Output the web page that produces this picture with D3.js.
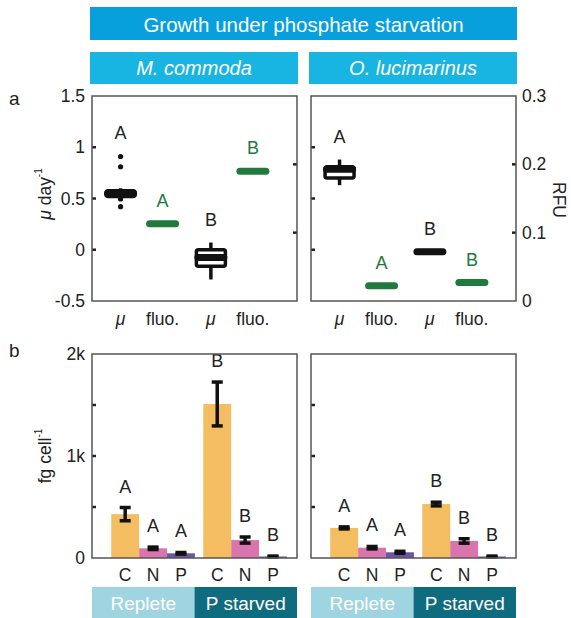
<!DOCTYPE html>
<html>
<head>
<meta charset="utf-8">
<script src="https://cdn.jsdelivr.net/npm/d3@7"></script>
<style>
body { margin: 0; background: #fff; }
text { font-family: "Liberation Sans", Arial, sans-serif; }
</style>
</head>
<body>
<script>
var svg_width = 571;
var svg_height = 618;

// ---- data ----
var species = ["M. commoda", "O. lucimarinus"];
var topCats = ["μ", "fluo.", "μ", "fluo."];
var conditions = ["Replete", "P starved"];
var elements = ["C", "N", "P"];

// growth rate boxplots (day-1): replete, P starved
var mcGrowth = [
  {lo: 0.50, q1: 0.52, med: 0.55, q3: 0.575, hi: 0.60, out: [0.91, 0.81, 0.495, 0.42]},
  {lo: -0.29, q1: -0.16, med: -0.076, q3: 0.0, hi: 0.07, out: []}
];
var olGrowth = [
  {lo: 0.63, q1: 0.70, med: 0.785, q3: 0.81, hi: 0.88, out: []},
  {lo: -0.02, q1: -0.02, med: -0.02, q3: -0.02, hi: -0.02, out: []}
];
// fluorescence (RFU): replete, P starved
var mcFluo = [0.113, 0.19];
var olFluo = [0.0224, 0.027];
var mcTopLetters = ["A", "A", "B", "B"];
var olTopLetters = ["A", "A", "B", "B"];

// cell quotas, fg cell-1: [replete C,N,P], [P starved C,N,P]
var mcQuota    = [[430, 95, 46], [1510, 176, 15]];
var mcQuotaErr = [[65, 12, 8], [215, 30, 4]];
var olQuota    = [[295, 101, 56], [529, 167, 15]];
var olQuotaErr = [[10, 12, 10], [18, 22, 4]];
var mcBarLetters = [["A", "A", "A"], ["B", "B", "B"]];
var olBarLetters = [["A", "A", "A"], ["B", "B", "B"]];

var muTicks = [-0.5, 0, 0.5, 1, 1.5];
var rfuTicks = [0, 0.1, 0.2, 0.3];
var quotaTicks = [0, 500, 1000, 1500, 2000];

//colours
var elemColor = {"C": "#f4bd62", "N": "#da74ad", "P": "#6a55a6"};
var condColor = {"Replete": "#9fd5e0", "P starved": "#0f6c7e"};
var GREEN = "#217a3c";
var FRAME = "#555";
var FS = 17.5;

// ---- layout ----
var panelX = [92, 311];
var panelW = 205;
var topY = [96, 301];
var botY = [354, 558];

var svg = d3.select('body').append('svg')
            .attr('width', svg_width)
            .attr('height', svg_height);

var mu = d3.scaleLinear().domain([-0.5, 1.5]).range([topY[1], topY[0]]);
var rfu = d3.scaleLinear().domain([0, 0.3]).range([topY[1], topY[0]]);
var quota = d3.scaleLinear().domain([0, 2000]).range([botY[1], botY[0]]);
var xTop = d3.scaleLinear().domain([0.32, 5.2]).range([0, panelW]);
var xBar = d3.scaleLinear().domain([-0.19, 7.16]).range([0, panelW]);

function topPos(i) { return i + 1 + (i >= 2 ? 0.15 : 0); }
function barPos(g, i) { return g * 3.3 + i + 1; }

// ---- banners ----
svg.append("rect").attr("x", 90).attr("y", 7).attr("width", 427).attr("height", 33)
   .attr("fill", "#089fdd");
svg.append("text").attr("x", 303.5).attr("y", 24).attr("text-anchor", "middle")
   .attr("dominant-baseline", "central").attr("fill", "#fff").attr("font-size", 20.5)
   .text("Growth under phosphate starvation");

species.forEach(function(s, k) {
  var x0 = k == 0 ? 90 : 309;
  svg.append("rect").attr("x", x0).attr("y", 52).attr("width", 208).attr("height", 32)
     .attr("fill", "#18b4e2");
  svg.append("text").attr("x", x0 + 104).attr("y", 68).attr("text-anchor", "middle")
     .attr("dominant-baseline", "central").attr("fill", "#fff").attr("font-size", 20)
     .attr("font-style", "italic").text(s);
});

svg.append("text").attr("x", 9).attr("y", 98).attr("dominant-baseline", "central")
   .attr("font-size", 19).attr("fill", "#222").text("a");
svg.append("text").attr("x", 9).attr("y", 350).attr("dominant-baseline", "central")
   .attr("font-size", 19).attr("fill", "#222").text("b");

// ---- top panels ----
function drawTop(k, growth, fluo, letters) {
  var g = svg.append("g").attr("transform", "translate(" + panelX[k] + ",0)");

  // inward ticks
  g.selectAll(".lt").data(muTicks.slice(1, -1)).enter().append("line")
   .attr("x1", 0).attr("x2", 4).attr("y1", d => mu(d)).attr("y2", d => mu(d))
   .attr("stroke", "#222").attr("stroke-width", 2.5);
  g.selectAll(".rt").data(rfuTicks.slice(1, -1)).enter().append("line")
   .attr("x1", panelW - 4).attr("x2", panelW).attr("y1", d => rfu(d)).attr("y2", d => rfu(d))
   .attr("stroke", "#222").attr("stroke-width", 2.5);

  if (k == 0) {
    g.selectAll(".ll").data(muTicks).enter().append("text")
     .attr("x", -7).attr("y", d => mu(d)).attr("text-anchor", "end")
     .attr("dominant-baseline", "central").attr("font-size", FS).attr("fill", "#222")
     .text(d => String(d));
  } else {
    g.selectAll(".rl").data(rfuTicks).enter().append("text")
     .attr("x", panelW + 6).attr("y", d => rfu(d))
     .attr("dominant-baseline", "central").attr("font-size", FS).attr("fill", "#222")
     .text(d => String(d));
  }

  topCats.forEach(function(c, i) {
    var cx = xTop(topPos(i));
    var top;
    if (i % 2 == 0) {
      var b = growth[i / 2];
      g.append("line").attr("x1", cx).attr("x2", cx).attr("y1", mu(b.hi)).attr("y2", mu(b.lo))
       .attr("stroke", "#111").attr("stroke-width", 3.5);
      g.append("rect").attr("x", cx - 14.5).attr("width", 29)
       .attr("y", mu(b.q3)).attr("height", mu(b.q1) - mu(b.q3))
       .attr("fill", "#fff").attr("stroke", "#111").attr("stroke-width", 3.5)
       .attr("rx", 2);
      g.append("line").attr("x1", cx - 13).attr("x2", cx + 13)
       .attr("y1", mu(b.med)).attr("y2", mu(b.med))
       .attr("stroke", "#111").attr("stroke-width", 7).attr("stroke-linecap", "round");
      g.selectAll(null).data(b.out).enter().append("circle")
       .attr("cx", cx).attr("cy", d => mu(d)).attr("r", 2.6).attr("fill", "#111");
      top = mu(d3.max([b.hi].concat(b.out)));
      g.append("text").attr("x", cx).attr("y", top - 23).attr("text-anchor", "middle")
       .attr("dominant-baseline", "central").attr("font-size", FS + 0.5).attr("fill", "#222")
       .text(letters[i]);
    } else {
      var v = fluo[(i - 1) / 2];
      g.append("line").attr("x1", cx - 13).attr("x2", cx + 13).attr("y1", rfu(v)).attr("y2", rfu(v))
       .attr("stroke", GREEN).attr("stroke-width", 7).attr("stroke-linecap", "round");
      g.append("text").attr("x", cx).attr("y", rfu(v) - 23).attr("text-anchor", "middle")
       .attr("dominant-baseline", "central").attr("font-size", FS + 0.5).attr("fill", GREEN)
       .text(letters[i]);
    }
    var lab = g.append("text").attr("x", cx).attr("y", 319).attr("text-anchor", "middle")
       .attr("dominant-baseline", "central").attr("font-size", FS).attr("fill", "#222")
       .text(c);
    if (c == "μ") lab.attr("font-style", "italic");
  });

  g.append("rect").attr("x", 0).attr("y", topY[0]).attr("width", panelW)
   .attr("height", topY[1] - topY[0]).attr("fill", "none")
   .attr("stroke", FRAME).attr("stroke-width", 1.5);
}

drawTop(0, mcGrowth, mcFluo, mcTopLetters);
drawTop(1, olGrowth, olFluo, olTopLetters);

// ---- bottom panels ----
function drawBars(k, vals, errs, letters) {
  var g = svg.append("g").attr("transform", "translate(" + panelX[k] + ",0)");
  var bw = xBar(1) - xBar(0);

  g.selectAll(".lt").data(quotaTicks.slice(1, -1)).enter().append("line")
   .attr("x1", 0).attr("x2", 4).attr("y1", d => quota(d)).attr("y2", d => quota(d))
   .attr("stroke", "#222").attr("stroke-width", 2.5);
  if (k == 0) {
    g.selectAll(".ll").data(quotaTicks.filter(d => d % 1000 == 0)).enter().append("text")
     .attr("x", -7).attr("y", d => quota(d)).attr("text-anchor", "end")
     .attr("dominant-baseline", "central").attr("font-size", FS).attr("fill", "#222")
     .text(d => d == 0 ? "0" : (d / 1000) + "k");
  }

  conditions.forEach(function(cond, gi) {
    elements.forEach(function(el, i) {
      var cx = xBar(barPos(gi, i));
      var v = vals[gi][i], e = errs[gi][i];
      g.append("rect").attr("x", cx - bw / 2).attr("width", bw)
       .attr("y", quota(v)).attr("height", quota(0) - quota(v))
       .attr("fill", elemColor[el]);
      var eb = g.append("g").attr("stroke", "#111").attr("stroke-width", 3.5);
      eb.append("line").attr("x1", cx).attr("x2", cx)
        .attr("y1", quota(v + e)).attr("y2", quota(Math.max(0, v - e)));
      eb.append("line").attr("x1", cx - 5.5).attr("x2", cx + 5.5)
        .attr("y1", quota(v + e)).attr("y2", quota(v + e));
      eb.append("line").attr("x1", cx - 5.5).attr("x2", cx + 5.5)
        .attr("y1", quota(Math.max(0, v - e))).attr("y2", quota(Math.max(0, v - e)));
      g.append("text").attr("x", cx).attr("y", quota(v + e) - 21).attr("text-anchor", "middle")
       .attr("dominant-baseline", "central").attr("font-size", FS + 0.5).attr("fill", "#222")
       .text(letters[gi][i]);
      g.append("text").attr("x", cx).attr("y", 575).attr("text-anchor", "middle")
       .attr("dominant-baseline", "central").attr("font-size", FS).attr("fill", "#222")
       .text(el);
    });
    // condition banner
    var half = panelW / 2;
    g.append("rect").attr("x", gi * half).attr("y", 587).attr("width", half)
     .attr("height", 31).attr("fill", condColor[cond]);
    g.append("text").attr("x", gi * half + half / 2).attr("y", 603).attr("text-anchor", "middle")
     .attr("dominant-baseline", "central").attr("font-size", 19).attr("fill", "#fff")
     .text(cond);
  });

  g.append("rect").attr("x", 0).attr("y", botY[0]).attr("width", panelW)
   .attr("height", botY[1] - botY[0]).attr("fill", "none")
   .attr("stroke", FRAME).attr("stroke-width", 1.5);
}

drawBars(0, mcQuota, mcQuotaErr, mcBarLetters);
drawBars(1, olQuota, olQuotaErr, olBarLetters);

// ---- axis titles ----
var yl = svg.append("text").attr("transform", "translate(45,194) rotate(-90)")
   .attr("text-anchor", "middle").attr("dominant-baseline", "central")
   .attr("font-size", FS).attr("fill", "#222");
yl.append("tspan").attr("font-style", "italic").text("μ");
yl.append("tspan").text(" day");
yl.append("tspan").attr("font-size", 10).attr("dy", -7).text("-1");

var yb = svg.append("text").attr("transform", "translate(45,456) rotate(-90)")
   .attr("text-anchor", "middle").attr("dominant-baseline", "central")
   .attr("font-size", FS).attr("fill", "#222");
yb.append("tspan").text("fg cell");
yb.append("tspan").attr("font-size", 10).attr("dy", -7).text("-1");

svg.append("text").attr("transform", "translate(559,200) rotate(90)")
   .attr("text-anchor", "middle").attr("dominant-baseline", "central")
   .attr("font-size", FS).attr("fill", "#222").text("RFU");
</script>
</body>
</html>
